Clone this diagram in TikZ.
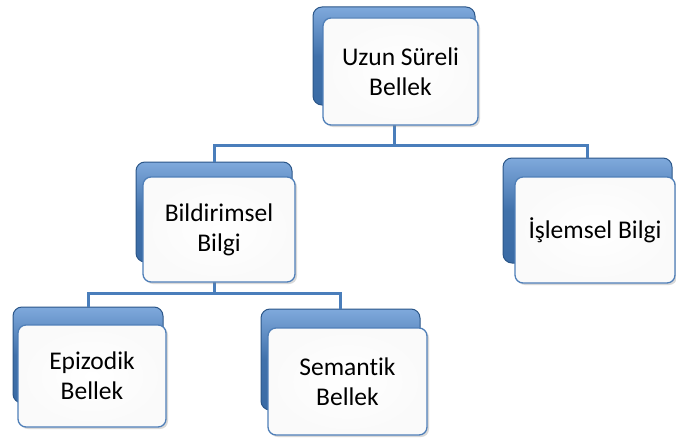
\documentclass[tikz,border=0pt]{standalone}
\usepackage{fontspec}
\setmainfont{Carlito}[Ligatures=NoCommon]
\usetikzlibrary{shadows}
\definecolor{linkblue}{HTML}{4A7EBB}
\definecolor{backtop}{HTML}{7FA9DC}
\definecolor{backbot}{HTML}{3A6BA5}
\definecolor{backedge}{HTML}{2B5688}
\definecolor{frontedge}{HTML}{4F7FB8}
\tikzset{
  backbox/.style={draw=backedge, line width=1pt, rounded corners=9pt,
    top color=backtop, bottom color=backbot, middle color=backbot!90!backtop,
    inner sep=0pt},
  frontbox/.style={draw=frontedge, line width=1.3pt, rounded corners=8pt, fill=white,
    inner color=white, outer color=gray!4,
    drop shadow={shadow xshift=2pt, shadow yshift=-2pt, opacity=0.3},
    align=center, font=\fontsize{25.5}{30}\selectfont, text=black},
  link/.style={draw=linkblue, line width=3pt}
}
\begin{document}
\begin{tikzpicture}[x=1pt,y=-1pt]
\useasboundingbox (0,0) rectangle (676,441);
% back boxes (named, used for connectors)
\node[backbox, minimum width=162pt, minimum height=98pt] (topb) at (394,56) {};
\node[backbox, minimum width=156pt, minimum height=100pt] (bildb) at (214,212) {};
\node[backbox, minimum width=169pt, minimum height=105pt] (islb) at (587.5,210.5) {};
\node[backbox, minimum width=150pt, minimum height=96pt] (epib) at (88,355) {};
\node[backbox, minimum width=159pt, minimum height=101pt] (semb) at (340.5,359.5) {};
% connectors
\coordinate (j1) at (0,145);
\coordinate (j2) at (0,293);
\draw[link] (topb.south) -- (topb.south |- j1) -| (bildb.north);
\draw[link] (topb.south |- j1) -| (islb.north);
\draw[link] (bildb.south) -- (bildb.south |- j2) -| (epib.north);
\draw[link] (bildb.south |- j2) -| (semb.north);
% front boxes
\node[frontbox, minimum width=155pt, minimum height=107pt] (topf) at (400.5,71.5) {Uzun Süreli\\Bellek};
\node[frontbox, minimum width=152pt, minimum height=105pt] (bildf) at (219,229.5) {Bildirimsel\\Bilgi};
\node[frontbox, minimum width=160pt, minimum height=106pt] (islf) at (595,230) {İşlemsel Bilgi};
\node[frontbox, minimum width=148pt, minimum height=102pt] (epif) at (92,376) {Epizodik\\Bellek};
\node[frontbox, minimum width=159pt, minimum height=107pt] (semf) at (347.5,381.5) {Semantik\\Bellek};
\end{tikzpicture}
\end{document}
